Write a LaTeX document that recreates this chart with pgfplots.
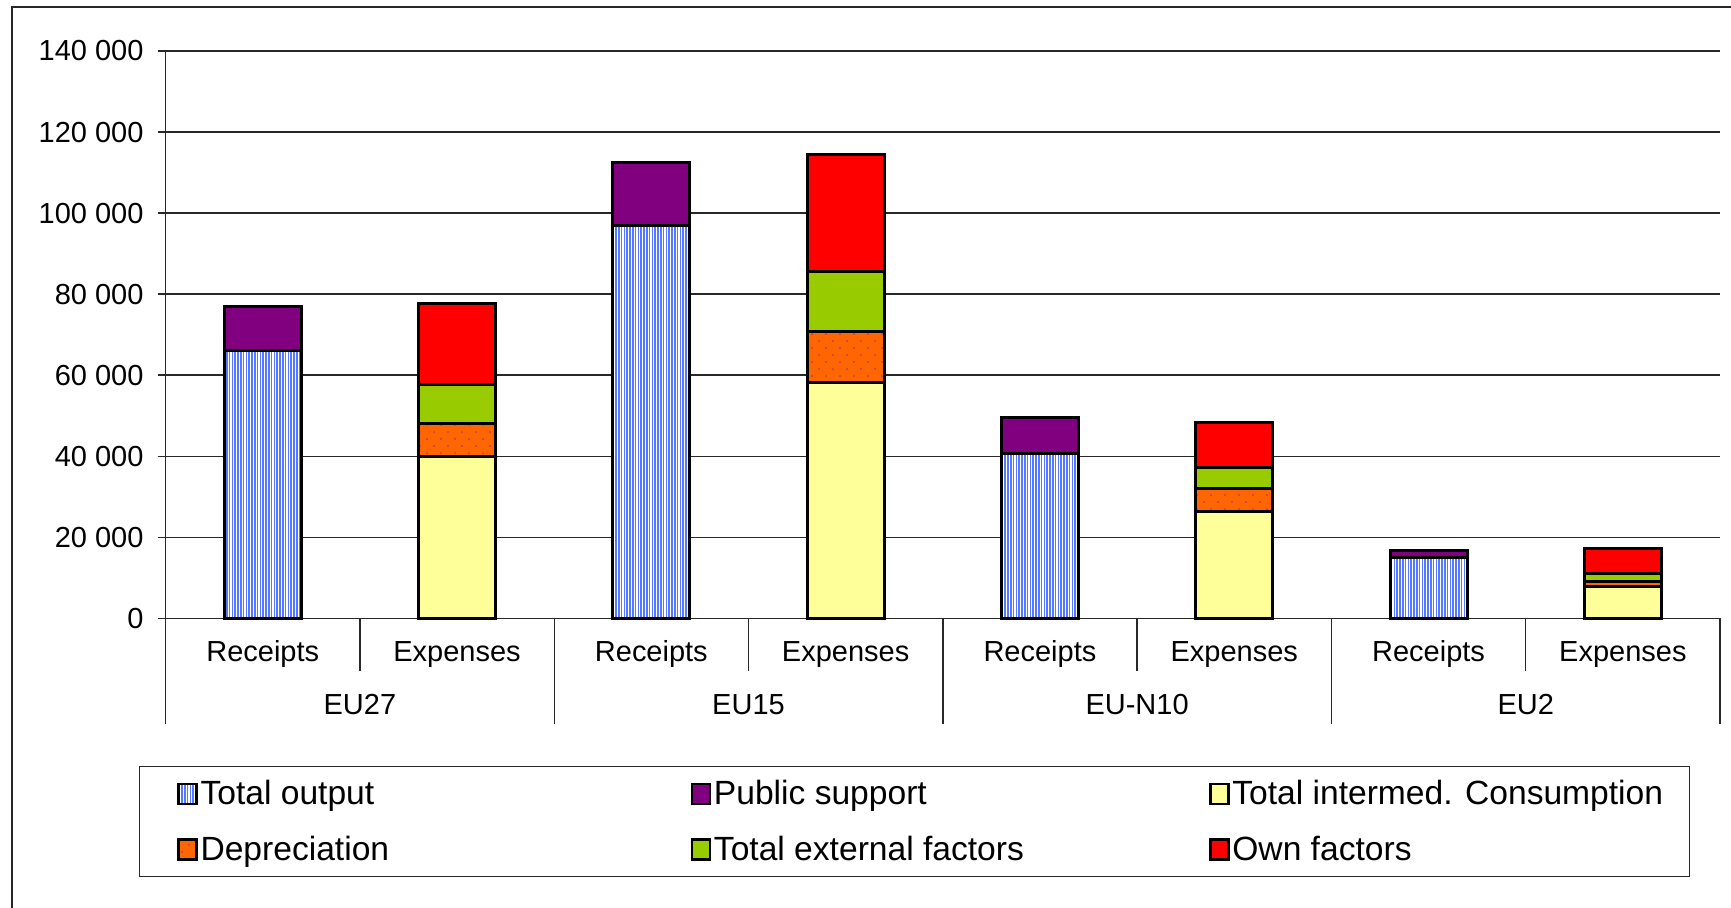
\documentclass[border=0pt]{standalone}
\usepackage{fontspec}
\setmainfont{Liberation Sans}
\usepackage{pgfplots}
\pgfplotsset{compat=1.18}
\usetikzlibrary{patterns.meta}

\definecolor{outputblue}{RGB}{85,120,255}
\definecolor{supportpurple}{RGB}{128,0,128}
\definecolor{consyellow}{RGB}{255,255,153}
\definecolor{deprorange}{RGB}{255,102,0}
\definecolor{dotpurple}{RGB}{150,40,160}
\definecolor{extgreen}{RGB}{153,204,0}
\definecolor{ownred}{RGB}{255,0,0}
\definecolor{rule}{RGB}{40,40,40}

\begin{document}
\begin{tikzpicture}
\useasboundingbox (0,0) rectangle (865.5pt,-454pt);
\draw[line width=0.75pt, rule] (6pt,-3.5pt) rectangle (900pt,-500pt);
\begin{axis}[
  at={(82.8pt,-309.15pt)}, anchor=south west,
  scale only axis, width=777.2pt, height=283.65pt,
  ybar stacked, bar width=38.5pt,
  xmin=-0.5, xmax=7.5, ymin=0, ymax=140000,
  clip=false,
  axis lines*=left,
  axis line style={-, line width=0.7pt, rule},
  ymajorgrids,
  grid style={line width=0.7pt, rule},
  ytick={0,20000,40000,60000,80000,100000,120000,140000},
  scaled y ticks=false,
  /pgf/number format/assume math mode=true,
  /pgf/number format/fixed,
  /pgf/number format/1000 sep={\ },
  tick label style={font=\fontsize{14.5}{17}\selectfont, text=black},
  major tick length=4pt,
  tick align=outside,
  ytick style={line width=0.7pt, rule},
  xtick={0,1,2,3,4,5,6,7},
  xticklabels={Receipts,Expenses,Receipts,Expenses,Receipts,Expenses,Receipts,Expenses},
  xtick style={draw=none},
  xticklabel style={anchor=center, yshift=-14pt},
  yticklabel style={xshift=-3.5pt},
  legend columns=3,
  legend cell align=left,
  legend style={at={(-0.01737,-0.2598)}, anchor=north west,
    draw=rule, line width=0.75pt,
    inner xsep=19pt, inner ysep=3.65pt,
    column sep=0pt, row sep=7.85pt,
    font=\fontsize{16.8}{19}\selectfont,
    nodes={inner sep=0pt, minimum height=20pt}},
  legend image code/.code={\draw[#1, line width=1.2pt, draw=black] (0pt,-5pt) rectangle (9pt,5pt);},
  every axis plot/.append style={draw=black, line width=1.5pt},
]
% Receipts: total output and public support
\addplot[fill=white, postaction={pattern={Lines[angle=90, distance=1.4pt, line width=0.75pt]}, pattern color=outputblue}]
  coordinates {(0,66000) (1,0) (2,97000) (3,0) (4,40700) (5,0) (6,15000) (7,0)};
\addlegendentry{\makebox[246.5pt][l]{\hspace{1.4pt}Total output}}
\addplot[fill=supportpurple]
  coordinates {(0,11000) (1,0) (2,15600) (3,0) (4,8900) (5,0) (6,1700) (7,0)};
\addlegendentry{\makebox[249pt][l]{\hspace{1.4pt}Public support}}
% Expenses: intermediate consumption, depreciation, external and own factors
\addplot[fill=consyellow]
  coordinates {(0,0) (1,39900) (2,0) (3,58200) (4,0) (5,26300) (6,0) (7,7800)};
\addlegendentry{\makebox[211pt][l]{\hspace{1.4pt}Total intermed. Consumption}}
\addplot[fill=deprorange, postaction={pattern={Dots[angle=45, distance=4.95pt, radius=0.45pt]}, pattern color=dotpurple}]
  coordinates {(0,0) (1,8200) (2,0) (3,12650) (4,0) (5,5800) (6,0) (7,1300)};
\addlegendentry{\makebox[246.5pt][l]{\hspace{1.4pt}Depreciation}}
\addplot[fill=extgreen]
  coordinates {(0,0) (1,9700) (2,0) (3,14800) (4,0) (5,5100) (6,0) (7,2000)};
\addlegendentry{\makebox[249pt][l]{\hspace{1.4pt}Total external factors}}
\addplot[fill=ownred]
  coordinates {(0,0) (1,19900) (2,0) (3,28800) (4,0) (5,11000) (6,0) (7,6100)};
\addlegendentry{\makebox[211pt][l]{\hspace{1.4pt}Own factors}}

% category separators below the axis
\draw[line width=0.7pt, rule] (axis cs:-0.5,0) -- ++(0pt,-53pt);
\draw[line width=0.7pt, rule] (axis cs:1.5,0) -- ++(0pt,-53pt);
\draw[line width=0.7pt, rule] (axis cs:3.5,0) -- ++(0pt,-53pt);
\draw[line width=0.7pt, rule] (axis cs:5.5,0) -- ++(0pt,-53pt);
\draw[line width=0.7pt, rule] (axis cs:7.5,0) -- ++(0pt,-53pt);
\draw[line width=0.7pt, rule] (axis cs:0.5,0) -- ++(0pt,-26.5pt);
\draw[line width=0.7pt, rule] (axis cs:2.5,0) -- ++(0pt,-26.5pt);
\draw[line width=0.7pt, rule] (axis cs:4.5,0) -- ++(0pt,-26.5pt);
\draw[line width=0.7pt, rule] (axis cs:6.5,0) -- ++(0pt,-26.5pt);
% group names
\node[font=\fontsize{14.5}{17}\selectfont, yshift=-43.35pt] at (axis cs:0.5,0) {EU27};
\node[font=\fontsize{14.5}{17}\selectfont, yshift=-43.35pt] at (axis cs:2.5,0) {EU15};
\node[font=\fontsize{14.5}{17}\selectfont, yshift=-43.35pt] at (axis cs:4.5,0) {EU-N10};
\node[font=\fontsize{14.5}{17}\selectfont, yshift=-43.35pt] at (axis cs:6.5,0) {EU2};
\end{axis}
\end{tikzpicture}
\end{document}
